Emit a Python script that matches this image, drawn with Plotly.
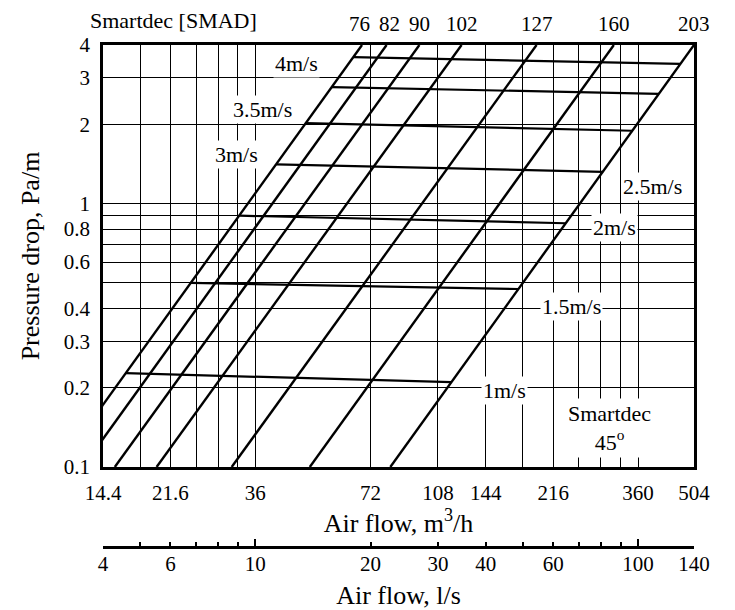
import math
import plotly.graph_objects as go

# ---------------- data ----------------
# Smartdec duct diameters (mm) - each duct is a straight line on the log-log chart,
# given by air flow (m3/h) where it meets dp = 0.1 Pa/m and dp = 4 Pa/m
diameters = [76, 82, 90, 102, 127, 160, 203]
q_at_dp_low = [11.0, 12.75, 15.46, 19.88, 31.23, 49.96, 81.1]
q_at_dp_high = [68.4, 79.3, 96.6, 124.5, 195.5, 311.2, 504.0]
dp_low, dp_high = 0.1, 4.0

# constant air velocity lines: pressure drop where they meet the 76 mm and 203 mm ducts
velocity_labels = ["1m/s", "1.5m/s", "2m/s", "2.5m/s", "3m/s", "3.5m/s", "4m/s"]
vel_dp_at_76 = [0.227, 0.50, 0.90, 1.41, 2.02, 2.77, 3.60]
vel_dp_at_203 = [0.210, 0.474, 0.842, 1.32, 1.89, 2.61, 3.39]

# axis ticks
x_tickvals = [14.4, 18, 21.6, 25.2, 28.8, 32.4, 36, 72, 108, 144, 180, 216, 252, 288, 324, 360, 504]
x_ticktext = ["14.4", "", "21.6", "", "", "", "36", "72", "108", "144", "", "216", "", "", "", "360", "504"]
y_tickvals = [0.1, 0.2, 0.3, 0.4, 0.5, 0.6, 0.7, 0.8, 0.9, 1, 2, 3, 4]
y_ticktext = ["0.1", "0.2", "0.3", "0.4", "", "0.6", "", "0.8", "", "1", "2", "3", "4"]
ls_tickvals = [4, 6, 10, 20, 30, 40, 60, 100, 140]
ls_minor = [5, 7, 8, 9, 50, 70, 80, 90]
ls_long = [10, 100]

# ---------------- helpers ----------------
L = math.log10


def q_on_duct(i, dp):
    """air flow on duct line i at pressure drop dp (log-log interpolation)"""
    a, b = L(q_at_dp_low[i]), L(q_at_dp_high[i])
    t = (L(dp) - L(dp_low)) / (L(dp_high) - L(dp_low))
    return 10 ** (a + t * (b - a))


FONT = "Liberation Serif, Times New Roman, serif"
OFF = 8                      # page body margin of the browser
W, H = 735 - OFF, 610 - OFF
plot_left, plot_right, plot_top, plot_bottom = 103 - OFF, 694 - OFF, 45 - OFF, 467 - OFF
ls_axis_px = 547 - OFF
ML, MR, MT, MB = plot_left, W - plot_right, plot_top, 40
plot_h = H - MT - MB
ydom0 = (H - MB - plot_bottom) / plot_h
ls_pos = (H - MB - ls_axis_px) / plot_h

fig = go.Figure()

for i, d in enumerate(diameters):
    fig.add_trace(go.Scatter(
        x=[q_at_dp_low[i], q_at_dp_high[i]], y=[dp_low, dp_high],
        mode="lines", line=dict(color="black", width=2.4),
        hoverinfo="skip", showlegend=False))

for j, lab in enumerate(velocity_labels):
    fig.add_trace(go.Scatter(
        x=[q_on_duct(0, vel_dp_at_76[j]), q_on_duct(len(diameters) - 1, vel_dp_at_203[j])],
        y=[vel_dp_at_76[j], vel_dp_at_203[j]],
        mode="lines", line=dict(color="black", width=2.2),
        hoverinfo="skip", showlegend=False))

# invisible traces that activate the l/s axes
fig.add_trace(go.Scatter(x=[4, 140], y=[0.1, 0.1], xaxis="x2", mode="markers",
                         marker=dict(opacity=0), hoverinfo="skip", showlegend=False))
fig.add_trace(go.Scatter(x=[4, 140], y=[0.1, 0.1], xaxis="x3", mode="markers",
                         marker=dict(opacity=0), hoverinfo="skip", showlegend=False))

# ---------------- annotations ----------------
top_label_xshift = [-3, 3, 0, 0, 0, 0, 0]
ann = []
for i, d in enumerate(diameters):
    ann.append(dict(x=L(q_at_dp_high[i]), y=1, xref="x", yref="paper", text=str(d),
                    xanchor="center", showarrow=False, yanchor="middle", yshift=21,
                    xshift=top_label_xshift[i], font=dict(size=21)))
ann.append(dict(x=(173 - 103) / (plot_right - plot_left), y=1, xref="paper", yref="paper",
                text="Smartdec [SMAD]", showarrow=False, xanchor="center",
                yanchor="middle", yshift=25, font=dict(size=22)))

# velocity labels (positions in data units: air flow m3/h, Pa/m)
label_pos = {
    "4m/s": (46.0, 3.39),
    "3.5m/s": (37.5, 2.267),
    "3m/s": (32.2, 1.53),
    "2.5m/s": (391.5, 1.166),
    "2m/s": (313.3, 0.808),
    "1.5m/s": (241.9, 0.405),
    "1m/s": (161.6, 0.196),
}
for lab in velocity_labels:
    qx, dpy = label_pos[lab]
    ann.append(dict(x=L(qx), y=L(dpy), xref="x", yref="y", text=lab, showarrow=False,
                    xanchor="center", bgcolor="white", borderpad=1, font=dict(size=22)))
ann.append(dict(x=L(304), y=L(0.1406), xref="x", yref="y",
                text="Smartdec<br>45<sup>o</sup>", showarrow=False, bgcolor="white",
                xanchor="center", borderpad=2, font=dict(size=22)))

fig.update_layout(
    width=W, height=H,
    margin=dict(l=ML, r=MR, t=MT, b=MB, autoexpand=False),
    plot_bgcolor="white", paper_bgcolor="white",
    font=dict(family=FONT, size=21, color="black"),
    showlegend=False,
    annotations=ann,
    xaxis=dict(
        type="log", range=[L(14.4), L(504)], anchor="y",
        tickvals=x_tickvals, ticktext=x_ticktext, ticks="",
        showgrid=True, gridcolor="black", gridwidth=1.2,
        showline=True, linecolor="black", linewidth=2.5, mirror=True,
        zeroline=False, ticklabelstandoff=5, tickfont=dict(size=21),
        title=dict(text="Air flow, m<sup>3</sup>/h", font=dict(size=26), standoff=6),
    ),
    yaxis=dict(
        type="log", range=[-1, L(4)], domain=[ydom0, 1],
        tickvals=y_tickvals, ticktext=y_ticktext, ticks="",
        showgrid=True, gridcolor="black", gridwidth=1.2,
        showline=True, linecolor="black", linewidth=2.5, mirror=True,
        zeroline=False, ticklabelstandoff=6, tickfont=dict(size=21),
        title=dict(text="Pressure drop, Pa/m", font=dict(size=26), standoff=17),
    ),
    xaxis2=dict(
        type="log", range=[L(4), L(140)], overlaying="x", anchor="free",
        position=ls_pos, side="bottom",
        tickvals=ls_tickvals, ticks="inside", ticklen=4, tickwidth=2, tickcolor="black",
        minor=dict(tickvals=ls_minor, ticks="inside", ticklen=4, tickwidth=2, tickcolor="black"),
        showgrid=False, showline=True, linecolor="black", linewidth=2.5, zeroline=False,
        ticklabelstandoff=-3, tickfont=dict(size=21),
        title=dict(text="Air flow, l/s", font=dict(size=26), standoff=11),
    ),
    xaxis3=dict(
        type="log", range=[L(4), L(140)], overlaying="x", anchor="free",
        position=ls_pos, side="bottom",
        tickvals=ls_long, ticks="inside", ticklen=8, tickwidth=2, tickcolor="black",
        showticklabels=False, showgrid=False, showline=False, zeroline=False,
    ),
)

fig.write_html("out.html")
